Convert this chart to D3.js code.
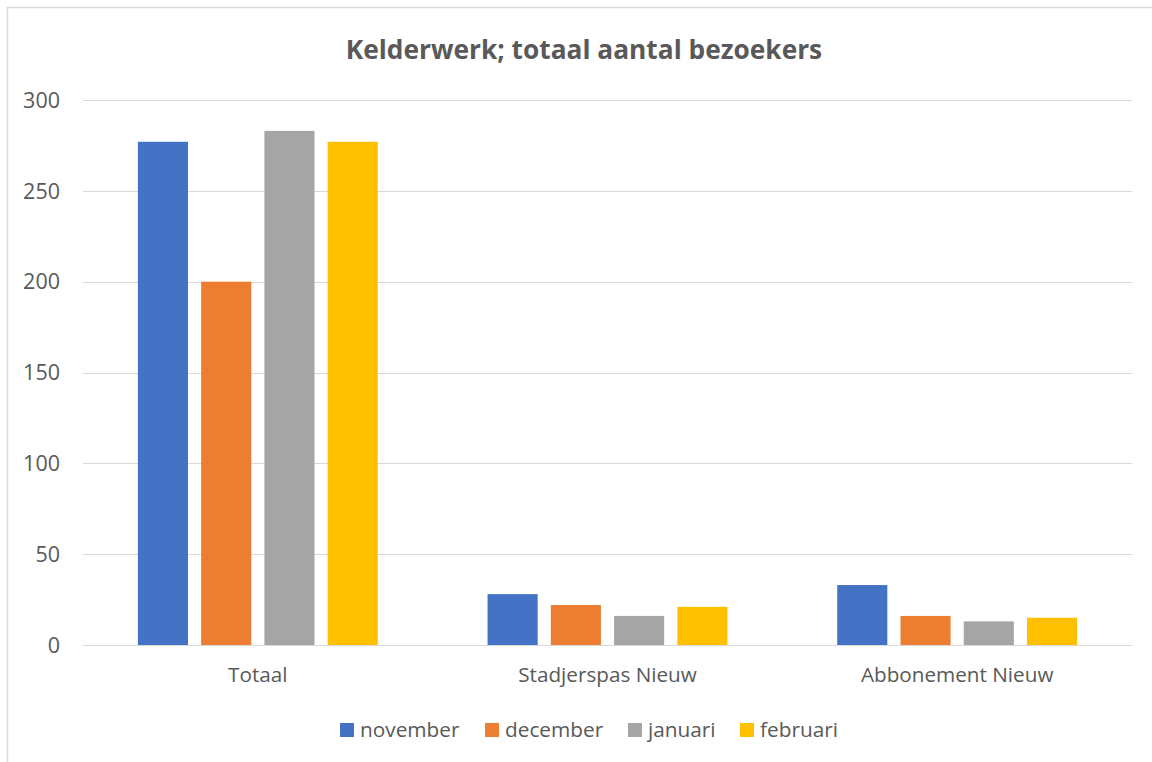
<!DOCTYPE html>
<html>
<head>
<meta charset="utf-8">
<script src="https://cdn.jsdelivr.net/npm/d3@7"></script>
<style>
  body { margin: 0; background: #fff; }
  svg { display: block; font-family: "Open Sans", sans-serif; }
</style>
</head>
<body>
<div id="chart"></div>
<script>
  "use strict";

  var categories = ["Totaal", "Stadjerspas Nieuw", "Abbonement Nieuw"];
  var months = ["november", "december", "januari", "februari"];
  var colors = ["#4472c4", "#ed7d31", "#a5a5a5", "#ffc000"];

  // one array per month, in category order
  var november = [277, 28, 33];
  var december = [200, 22, 16];
  var januari = [283, 16, 13];
  var februari = [277, 21, 15];
  var series = [november, december, januari, februari];

  var yTicks = [0, 50, 100, 150, 200, 250, 300];

  var width = 1152, height = 762;
  var margin = {left: 83, right: 20, top: 100, bottom: 117};
  var font = "'Open Sans', sans-serif";

  var svg = d3.select("#chart").append("svg")
              .attr("width", width)
              .attr("height", height);

  // chart area border (runs off the right and bottom edge)
  svg.append("rect")
     .attr("x", 7.5).attr("y", 7.5)
     .attr("width", width + 20).attr("height", height + 20)
     .attr("fill", "none")
     .attr("stroke", "#d9d9d9")
     .attr("stroke-width", 1.5);

  var y = d3.scaleLinear()
            .domain([0, 300])
            .range([height - margin.bottom, margin.top]);

  var x0 = d3.scaleBand()
             .domain(categories)
             .range([margin.left, width - margin.right])
             .paddingInner(0.314)
             .paddingOuter(0.157);

  var x1 = d3.scaleBand()
             .domain(months)
             .range([0, x0.bandwidth()])
             .paddingInner(0.208);

  // gridlines
  svg.append("g")
     .selectAll("line")
     .data(yTicks)
     .join("line")
     .attr("x1", margin.left)
     .attr("x2", width - margin.right)
     .attr("y1", function (d) { return Math.round(y(d)) + 0.5; })
     .attr("y2", function (d) { return Math.round(y(d)) + 0.5; })
     .attr("stroke", "#d9d9d9")
     .attr("stroke-width", 1.2);

  var yAxis = svg.append("g")
                 .attr("transform", "translate(" + (margin.left - 23) + ",0)")
                 .call(d3.axisLeft(y).tickValues(yTicks).tickSize(0).tickPadding(0));
  yAxis.select(".domain").remove();
  yAxis.selectAll("text")
       .attr("fill", "#595959")
       .attr("dy", "0.34em")
       .style("font-size", "21.5px")
       .style("font-family", font);

  // bars
  var groups = svg.append("g")
                  .selectAll("g")
                  .data(categories)
                  .join("g")
                  .attr("transform", function (d) { return "translate(" + x0(d) + ",0)"; });

  groups.selectAll("rect")
        .data(function (d, i) {
          return months.map(function (m, j) { return {month: m, value: series[j][i], color: colors[j]}; });
        })
        .join("rect")
        .attr("x", function (d) { return x1(d.month); })
        .attr("width", x1.bandwidth())
        .attr("y", function (d) { return y(d.value); })
        .attr("height", function (d) { return y(0) - y(d.value); })
        .attr("fill", function (d) { return d.color; });

  var xAxis = svg.append("g")
                 .attr("transform", "translate(0," + 682 + ")")
                 .call(d3.axisBottom(x0).tickSize(0).tickPadding(0));
  xAxis.select(".domain").remove();
  xAxis.selectAll("text")
       .attr("fill", "#595959")
       .attr("dy", 0)
       .style("font-size", "20.7px")
       .style("font-family", font);

  // title
  svg.append("text")
     .attr("x", 584)
     .attr("y", 59)
     .attr("text-anchor", "middle")
     .attr("fill", "#595959")
     .style("font-size", "26.3px")
     .style("font-weight", "bold")
     .text("Kelderwerk; totaal aantal bezoekers");

  // legend
  var legendX = [340, 485, 628, 740];
  var legend = svg.append("g")
                  .selectAll("g")
                  .data(months)
                  .join("g")
                  .attr("transform", function (d, i) { return "translate(" + legendX[i] + ",723)"; });
  legend.append("rect")
        .attr("width", 14).attr("height", 14)
        .attr("fill", function (d, i) { return colors[i]; });
  legend.append("text")
        .attr("x", 20)
        .attr("y", 14)
        .attr("fill", "#595959")
        .style("font-size", "20.8px")
        .text(function (d) { return d; });
</script>
</body>
</html>
